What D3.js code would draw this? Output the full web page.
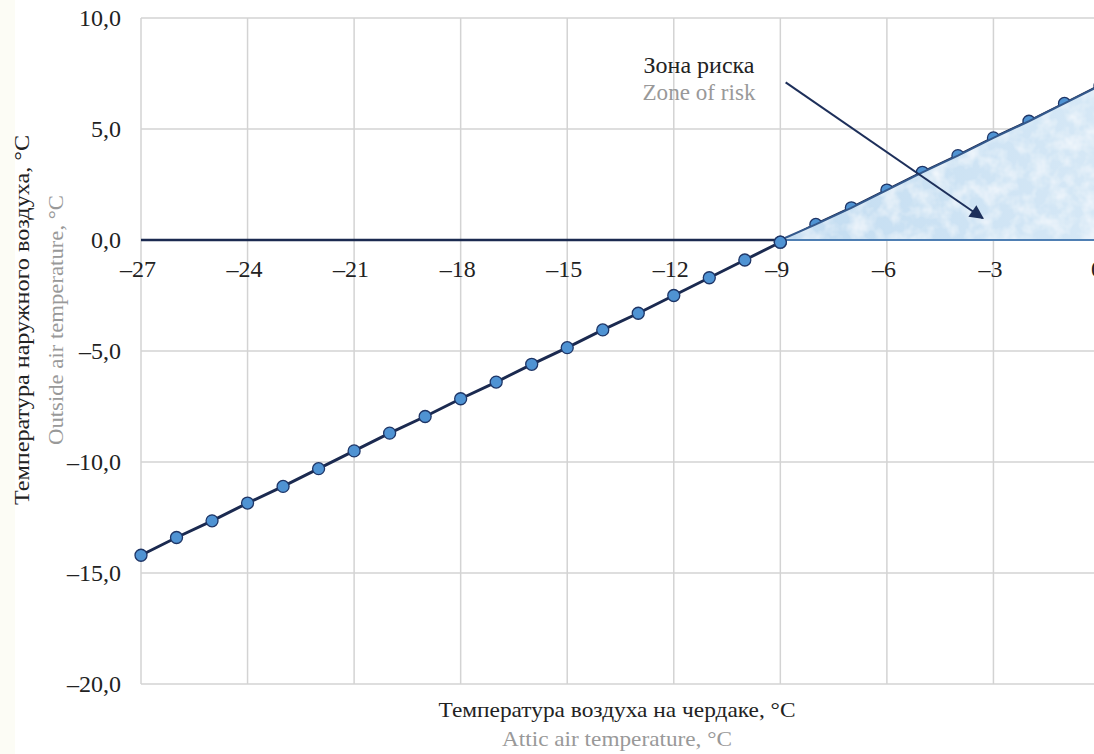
<!DOCTYPE html>
<html>
<head>
<meta charset="utf-8">
<script src="https://cdn.jsdelivr.net/npm/d3@7"></script>
<style>
  html, body { margin: 0; padding: 0; background: #ffffff; overflow: hidden; }
  svg { display: block; }
  text { font-family: "Liberation Serif", "Times New Roman", serif; }
</style>
</head>
<body>
<svg id="chart" width="1094" height="754"></svg>
<script>
// Attic air temperature (x) and outside air temperature (y), °C
const atticTemp = [-27, -26, -25, -24, -23, -22, -21, -20, -19, -18, -17, -16, -15, -14,
                   -13, -12, -11, -10, -9, -8, -7, -6, -5, -4, -3, -2, -1, 0];
const outsideTemp = [-14.2, -13.4, -12.65, -11.85, -11.1, -10.3, -9.5, -8.7, -7.95, -7.15,
                     -6.4, -5.6, -4.85, -4.05, -3.3, -2.5, -1.7, -0.9, -0.1, 0.7, 1.45,
                     2.25, 3.05, 3.8, 4.6, 5.35, 6.15, 6.95];
const xTicks = [-27, -24, -21, -18, -15, -12, -9, -6, -3, 0];
const yTicks = [10, 5, 0, -5, -10, -15, -20];
const riskStart = -9;                       // risk zone begins where outside temp crosses 0
const arrowFrom = [-8.85, 7.1];
const arrowTo = [-3.3, 0.98];

const fmtY = v => (v < 0 ? "\u2013" : "") + Math.abs(v).toFixed(1).replace(".", ",");
const fmtX = v => (v < 0 ? "\u2013" : "") + Math.abs(v);

const svg = d3.select("#chart");
const plotLeft = 141, plotTop = 18, plotRight = 1100, plotBottom = 684;

const x = d3.scaleLinear().domain([-27, 0]).range([plotLeft, plotRight]);
const y = d3.scaleLinear().domain([-20, 10]).range([plotBottom, plotTop]);

// faint page edge tint on the left
svg.append("rect").attr("x", 0).attr("y", 0).attr("width", 15).attr("height", 754).attr("fill", "#fcfcf5");

const defs = svg.append("defs");
// mottled texture for the risk zone
const f = defs.append("filter").attr("id", "mottle").attr("x", 0).attr("y", 0).attr("width", 1).attr("height", 1);
f.append("feTurbulence").attr("type", "fractalNoise").attr("baseFrequency", 0.06).attr("numOctaves", 3).attr("seed", 4).attr("result", "noise");
f.append("feColorMatrix").attr("in", "noise").attr("type", "matrix")
  .attr("values", "0 0 0 0 1  0 0 0 0 1  0 0 0 0 1  0 0 0 1.3 -0.5").attr("result", "white");
f.append("feComposite").attr("in", "white").attr("in2", "SourceGraphic").attr("operator", "in").attr("result", "spots");
f.append("feMerge").selectAll("feMergeNode").data(["SourceGraphic", "spots"]).join("feMergeNode").attr("in", d => d);

const grad = defs.append("linearGradient").attr("id", "zoneGrad")
  .attr("gradientUnits", "userSpaceOnUse")
  .attr("x1", x(riskStart)).attr("x2", x(0)).attr("y1", 0).attr("y2", 0);
grad.append("stop").attr("offset", 0).attr("stop-color", "#c2dcf1");
grad.append("stop").attr("offset", 1).attr("stop-color", "#d6e8f6");

const marker = defs.append("marker").attr("id", "arrowHead")
  .attr("viewBox", "0 0 10 10").attr("refX", 9).attr("refY", 5)
  .attr("markerWidth", 8).attr("markerHeight", 7).attr("markerUnits", "strokeWidth")
  .attr("orient", "auto");
marker.append("path").attr("d", "M0,0 L10,5 L0,10 Z").attr("fill", "#1d2f5a");

// grid
const grid = svg.append("g").attr("stroke", "#d3d3d3").attr("stroke-width", 1.5);
grid.selectAll("line.v").data(xTicks).join("line").attr("class", "v")
  .attr("x1", d => x(d)).attr("x2", d => x(d)).attr("y1", y(10)).attr("y2", y(-20));
grid.selectAll("line.h").data(yTicks).join("line").attr("class", "h")
  .attr("x1", x(-27)).attr("x2", x(0)).attr("y1", d => y(d)).attr("y2", d => y(d));

// zero line
svg.append("line").attr("x1", x(-27)).attr("x2", x(riskStart))
  .attr("y1", y(0)).attr("y2", y(0)).attr("stroke", "#1b2a50").attr("stroke-width", 2.5);

const pts = atticTemp.map((a, i) => ({ a, o: outsideTemp[i] }));

// data line and markers
svg.append("path").datum(pts)
  .attr("d", d3.line().x(d => x(d.a)).y(d => y(d.o)))
  .attr("fill", "none").attr("stroke", "#1b2a50").attr("stroke-width", 3);
svg.append("g").selectAll("circle").data(pts).join("circle")
  .attr("cx", d => x(d.a)).attr("cy", d => y(d.o)).attr("r", 6)
  .attr("fill", "#4f93d3").attr("stroke", "#1e3566").attr("stroke-width", 1.3);

// risk zone
const zone = pts.filter(d => d.a >= riskStart);
zone[0] = { a: riskStart, o: 0 };
svg.append("path").datum(zone)
  .attr("d", d3.area().x(d => x(d.a)).y0(y(0)).y1(d => y(d.o)))
  .attr("fill", "url(#zoneGrad)").attr("filter", "url(#mottle)");
svg.append("path").datum(zone)
  .attr("d", d3.line().x(d => x(d.a)).y(d => y(d.o)))
  .attr("fill", "none").attr("stroke", "#34598c").attr("stroke-width", 2);
svg.append("line").attr("x1", x(riskStart)).attr("x2", x(0))
  .attr("y1", y(0)).attr("y2", y(0)).attr("stroke", "#4f7fb3").attr("stroke-width", 2);

// repeat the crossing marker on top
svg.append("circle").attr("cx", x(riskStart)).attr("cy", y(outsideTemp[atticTemp.indexOf(riskStart)])).attr("r", 6)
  .attr("fill", "#4f93d3").attr("stroke", "#1e3566").attr("stroke-width", 1.3);

// arrow
svg.append("line")
  .attr("x1", x(arrowFrom[0])).attr("y1", y(arrowFrom[1]))
  .attr("x2", x(arrowTo[0])).attr("y2", y(arrowTo[1]))
  .attr("stroke", "#1d2f5a").attr("stroke-width", 2).attr("marker-end", "url(#arrowHead)");

// tick labels
svg.append("g").selectAll("text").data(yTicks).join("text")
  .attr("x", 121).attr("y", d => y(d)).attr("dy", "0.33em")
  .attr("text-anchor", "end").attr("font-size", 24).attr("fill", "#222")
  .text(fmtY);
svg.append("g").selectAll("text").data(xTicks).join("text")
  .attr("x", d => x(d) - 3).attr("y", 277)
  .attr("text-anchor", "middle").attr("font-size", 24).attr("fill", "#222")
  .text(fmtX);

// annotation
svg.append("text").attr("x", 699).attr("y", 73).attr("text-anchor", "middle")
  .attr("font-size", 23).attr("fill", "#222")
  .attr("textLength", 111).attr("lengthAdjust", "spacingAndGlyphs").text("Зона риска");
svg.append("text").attr("x", 699).attr("y", 100).attr("text-anchor", "middle")
  .attr("font-size", 23).attr("fill", "#999")
  .attr("textLength", 113).attr("lengthAdjust", "spacingAndGlyphs").text("Zone of risk");

// axis titles
svg.append("text").attr("x", 617).attr("y", 717).attr("text-anchor", "middle")
  .attr("font-size", 22).attr("fill", "#222")
  .attr("textLength", 357).attr("lengthAdjust", "spacingAndGlyphs")
  .text("Температура воздуха на чердаке, °C");
svg.append("text").attr("x", 617).attr("y", 746).attr("text-anchor", "middle")
  .attr("font-size", 22).attr("fill", "#999")
  .attr("textLength", 230).attr("lengthAdjust", "spacingAndGlyphs")
  .text("Attic air temperature, °C");

svg.append("text").attr("transform", "translate(29,320) rotate(-90)").attr("text-anchor", "middle")
  .attr("font-size", 22).attr("fill", "#222")
  .attr("textLength", 370).attr("lengthAdjust", "spacingAndGlyphs")
  .text("Температура наружного воздуха, °C");
svg.append("text").attr("transform", "translate(63,320) rotate(-90)").attr("text-anchor", "middle")
  .attr("font-size", 22).attr("fill", "#999")
  .attr("textLength", 250).attr("lengthAdjust", "spacingAndGlyphs")
  .text("Outside air temperature, °C");
</script>
</body>
</html>
